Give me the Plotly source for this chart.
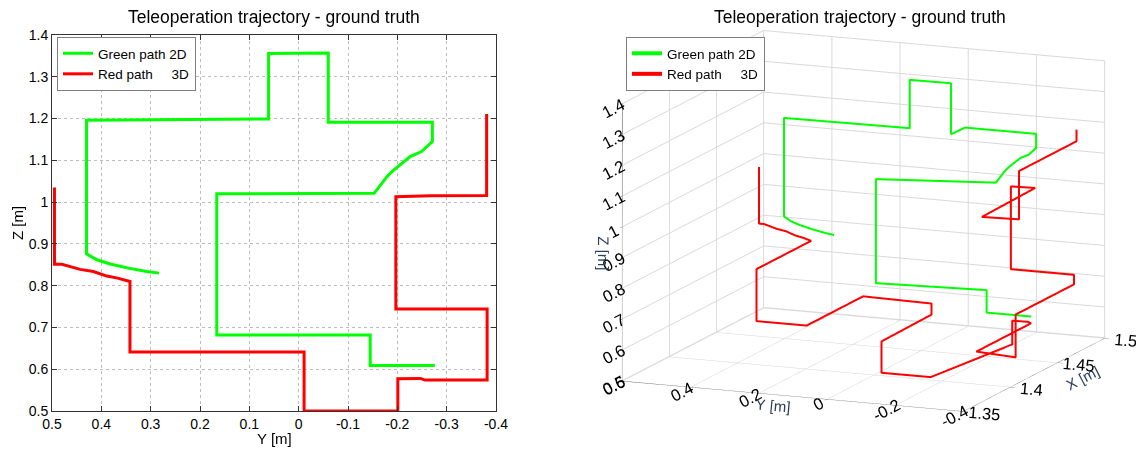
import plotly.graph_objects as go

# ---------------- data ----------------
# Green path (2D): Y [m], Z [m], X [m]
green_y = [0.283, 0.308, 0.345, 0.382, 0.409, 0.430, 0.430, 0.061, 0.061, -0.060, -0.060, -0.062,
           -0.271, -0.271, -0.249, -0.226, -0.205, -0.189, -0.179, -0.168, -0.153, 0.166, 0.166,
           -0.145, -0.145, -0.276]
green_z = [0.830, 0.834, 0.842, 0.852, 0.862, 0.876, 1.196, 1.199, 1.356, 1.357, 1.191, 1.191,
           1.191, 1.145, 1.121, 1.109, 1.089, 1.073, 1.061, 1.044, 1.021, 1.020, 0.682,
           0.682, 0.609, 0.609]
green_x = [1.460, 1.460, 1.460, 1.460, 1.460, 1.460, 1.460, 1.460, 1.460, 1.460, 1.460, 1.474,
           1.474, 1.474, 1.474, 1.474, 1.474, 1.474, 1.474, 1.474, 1.474, 1.462, 1.462,
           1.467, 1.467, 1.467]

# Red path (3D): Y [m], Z [m], X [m]
red_y = [0.495, 0.495, 0.480, 0.443, 0.416, 0.389, 0.367, 0.342, 0.342, 0.342, 0.195, 0.195,
         -0.011, -0.011, -0.011, -0.011, -0.155, -0.201, -0.201, -0.247, -0.256, -0.256, -0.382,
         -0.382, -0.382, -0.382, -0.197, -0.197, -0.268, -0.275, -0.381, -0.381, -0.381, -0.381]
red_z = [1.035, 0.851, 0.851, 0.839, 0.834, 0.823, 0.818, 0.810, 0.810, 0.641, 0.641, 0.641,
         0.641, 0.605, 0.602, 0.500, 0.500, 0.500, 0.577, 0.578, 0.574, 0.574, 0.574,
         0.713, 0.713, 0.744, 0.744, 1.013, 1.015, 1.015, 1.016, 1.173, 1.173, 1.211]
red_x = [1.457, 1.457, 1.457, 1.457, 1.457, 1.457, 1.457, 1.457, 1.399, 1.399, 1.399, 1.459,
         1.457, 1.457, 1.404, 1.404, 1.404, 1.474, 1.474, 1.474, 1.474, 1.416, 1.412,
         1.412, 1.474, 1.474, 1.474, 1.474, 1.474, 1.415, 1.416, 1.416, 1.477, 1.477]

# tick labels
y2d_ticks = [0.5, 0.4, 0.3, 0.2, 0.1, 0.0, -0.1, -0.2, -0.3, -0.4]
y2d_text = ["0.5", "0.4", "0.3", "0.2", "0.1", "0", "-0.1", "-0.2", "-0.3", "-0.4"]
z_ticks = [0.5, 0.6, 0.7, 0.8, 0.9, 1.0, 1.1, 1.2, 1.3, 1.4]
z_text = ["0.5", "0.6", "0.7", "0.8", "0.9", "1", "1.1", "1.2", "1.3", "1.4"]
y3d_ticks = [0.6, 0.4, 0.2, 0.0, -0.2, -0.4]
y3d_text = ["0.6", "0.4", "0.2", "0", "-0.2", "-0.4"]
x3d_ticks = [1.35, 1.40, 1.45, 1.50]
x3d_text = ["1.35", "1.4", "1.45", "1.5"]

title_text = "Teleoperation trajectory - ground truth"
green_name = "Green path 2D"
red_name = "Red path\u00a0\u00a0\u00a0\u00a0\u00a03D"

GREEN = "#00ff00"
RED = "#ff0000"
FONT = "Liberation Sans, Arial, sans-serif"
W, H = 1136, 456

fig = go.Figure()

# 2D plot
fig.add_trace(go.Scatter(x=green_y, y=green_z, mode="lines", name=green_name,
                         line=dict(color=GREEN, width=3), legend="legend"))
fig.add_trace(go.Scatter(x=red_y, y=red_z, mode="lines", name=red_name,
                         line=dict(color=RED, width=3), legend="legend"))

# 3D plot
fig.add_trace(go.Scatter3d(x=green_x, y=green_y, z=green_z, mode="lines", name=green_name,
                           line=dict(color=GREEN, width=4), legend="legend2"))
fig.add_trace(go.Scatter3d(x=red_x, y=red_y, z=red_z, mode="lines", name=red_name,
                           line=dict(color=RED, width=4), legend="legend2"))

# 2D axes box in pixels
ax_l, ax_r, ax_t, ax_b = 52, 496, 35, 411

axis_common = dict(showline=True, linecolor="#333", linewidth=1, mirror="ticks",
                   ticks="inside", ticklen=5, tickcolor="#333",
                   showgrid=True, gridcolor="#bdbdbd", griddash="dot", gridwidth=1,
                   zeroline=False, tickfont=dict(family=FONT, size=14, color="black"))

axis3d = dict(showbackground=False, gridcolor="#d9d9d9", showline=True, linecolor="#555",
              zeroline=False, showspikes=False, ticks="outside", tickcolor="#555",
              tickfont=dict(family=FONT, size=14, color="black"))

S = 1.67  # orthographic zoom factor
fig.update_layout(
    width=W, height=H,
    margin=dict(l=0, r=0, t=0, b=0, autoexpand=False),
    paper_bgcolor="white", plot_bgcolor="white",
    xaxis=dict(domain=[ax_l / W, ax_r / W], range=[0.5, -0.4], tickvals=y2d_ticks,
               ticktext=y2d_text, anchor="y", **axis_common),
    yaxis=dict(domain=[1 - ax_b / H, 1 - ax_t / H], range=[0.5, 1.4], tickvals=z_ticks,
               ticktext=z_text, anchor="x", **axis_common),
    legend=dict(x=57 / W, y=1 - 37 / H, xanchor="left", yanchor="top", bgcolor="white",
                bordercolor="#7f7f7f", borderwidth=1,
                font=dict(family=FONT, size=13.5, color="black"), tracegroupgap=0),
    legend2=dict(x=626 / W, y=1 - 37 / H, xanchor="left", yanchor="top", bgcolor="white",
                 bordercolor="#7f7f7f", borderwidth=1,
                 font=dict(family=FONT, size=13.5, color="black"), tracegroupgap=0),
    scene=dict(
        domain=dict(x=[0.52, 1.0], y=[0.03, 1.0]),
        aspectmode="manual", aspectratio=dict(x=1.0 * S, y=1.0 * S, z=0.77 * S),
        camera=dict(projection=dict(type="orthographic"),
                    eye=dict(x=-1.805, y=-0.748, z=0.429),
                    up=dict(x=0, y=0, z=1), center=dict(x=0, y=0, z=0)),
        xaxis=dict(range=[1.35, 1.5], tickvals=x3d_ticks, ticktext=x3d_text,
                   title=dict(text="X [m]", font=dict(family=FONT, size=15)), **axis3d),
        yaxis=dict(range=[-0.4, 0.6], tickvals=y3d_ticks, ticktext=y3d_text,
                   title=dict(text="Y [m]", font=dict(family=FONT, size=15)), **axis3d),
        zaxis=dict(range=[0.498, 1.4], tickvals=z_ticks, ticktext=z_text,
                   title=dict(text="Z [m]", font=dict(family=FONT, size=15)), **axis3d),
    ),
    annotations=[
        dict(text=title_text, x=(ax_l + ax_r) / 2 / W, y=1 - 17 / H, xref="paper", yref="paper",
             showarrow=False, font=dict(family=FONT, size=17.5, color="black"),
             xanchor="center", yanchor="middle"),
        dict(text=title_text, x=860 / W, y=1 - 17 / H, xref="paper", yref="paper",
             showarrow=False, font=dict(family=FONT, size=17.5, color="black"),
             xanchor="center", yanchor="middle"),
        dict(text="Y [m]", x=(ax_l + ax_r) / 2 / W, y=1 - 438 / H, xref="paper", yref="paper",
             showarrow=False, font=dict(family=FONT, size=15, color="black"),
             xanchor="center", yanchor="middle"),
        dict(text="Z [m]", x=17 / W, y=1 - 223 / H, xref="paper", yref="paper",
             showarrow=False, font=dict(family=FONT, size=15, color="black"),
             xanchor="center", yanchor="middle", textangle=-90),
    ],
)

fig.write_html("out.html")
